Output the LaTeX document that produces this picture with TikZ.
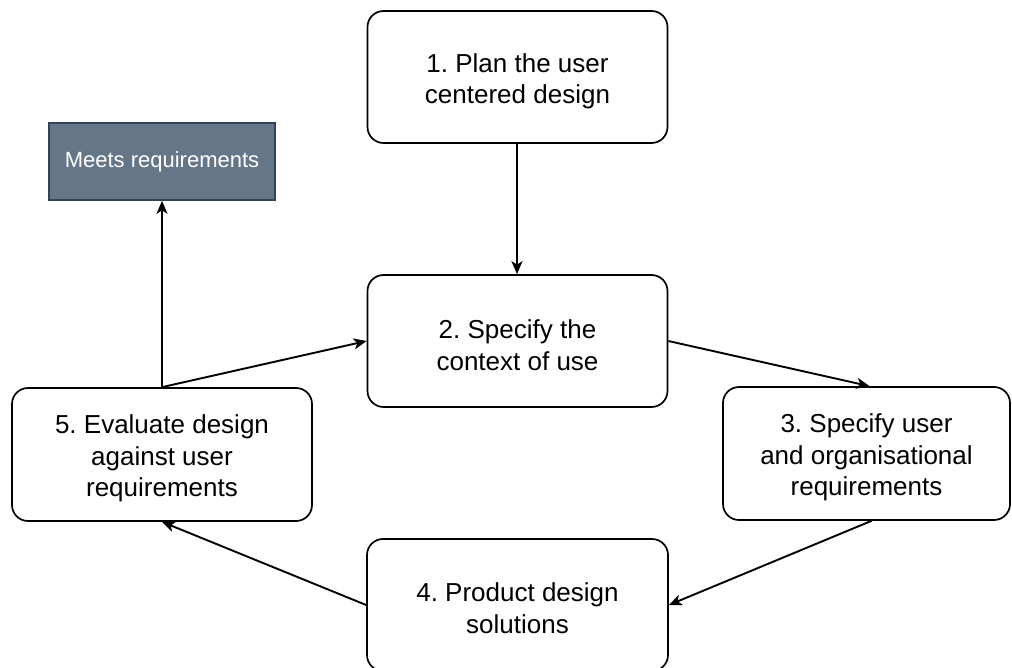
\documentclass[tikz,border=0pt]{standalone}
\usepackage{fontspec}
\setmainfont{Liberation Sans}
\usetikzlibrary{arrows.meta}
\definecolor{slatefill}{HTML}{647687}
\definecolor{slateline}{HTML}{314354}
\frenchspacing
\begin{document}
\begin{tikzpicture}[x=1pt,y=-1pt,
  stepbox/.style={draw=black, line width=1.7pt, rounded corners=16pt, fill=white, inner sep=0pt},
  steptext/.style={align=center, inner sep=0pt, font=\fontsize{26}{31.5}\selectfont},
  goalbox/.style={draw=slateline, line width=1.7pt, fill=slatefill, text=white,
    align=center, inner sep=0pt, font=\fontsize{22}{26}\selectfont},
  flow/.style={draw=black, line width=1.9pt, -{Stealth[length=13pt,width=11pt,inset=3.5pt]}}
]
\useasboundingbox (0,0) rectangle (1012,668);
\begin{scope}
\clip (0,0) rectangle (1012,668);
\node[stepbox, minimum width=300pt, minimum height=132pt] (b1) at (517.5,77) {};
\node[stepbox, minimum width=300pt, minimum height=132pt] (b2) at (517.5,341) {};
\node[stepbox, minimum width=287pt, minimum height=133pt] (b3) at (866.5,453.5) {};
\node[stepbox, minimum width=301pt, minimum height=132pt] (b4) at (517.5,605) {};
\node[stepbox, minimum width=300pt, minimum height=133pt] (b5) at (162,454.5) {};
\node[goalbox, minimum width=226pt, minimum height=77pt] (m) at (162,161.5) {Meets requirements};
\end{scope}
\node[steptext] (t1) at ([yshift=-4.5pt]b1.center) {1. Plan the user\\centered design};
\node[steptext] (t2) at ([yshift=-4pt]b2.center) {2. Specify the\\context of use};
\node[steptext] (t3) at ([yshift=-4pt]b3.center) {3. Specify user\\and organisational\\requirements};
\node[steptext] (t4) at ([yshift=-3pt]b4.center) {4. Product design\\solutions};
\node[steptext] (t5) at ([yshift=-4pt]b5.center) {5. Evaluate design\\against user\\requirements};
\draw[flow] ([xshift=-0.5pt]b1.south) -- ([xshift=-0.5pt]b2.north);
\draw[flow] (b2.east) -- ([xshift=3pt]b3.north);
\draw[flow] ([xshift=5pt]b3.south) -- (b4.east);
\draw[flow] (b4.west) -- (b5.south);
\draw[flow] (b5.north) -- (b2.west);
\draw[flow] (b5.north) -- (m.south);
\end{tikzpicture}
\end{document}
